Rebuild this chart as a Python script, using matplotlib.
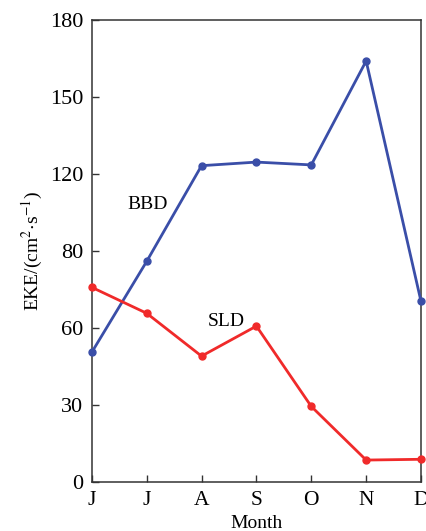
import matplotlib.pyplot as plt
import numpy as np

plt.rcParams['font.family'] = ['Liberation Serif', 'DejaVu Serif']
plt.rcParams['mathtext.fontset'] = 'stix'

months = ['J', 'J', 'A', 'S', 'O', 'N', 'D']
# values in axis position units (the printed tick labels read 0,30,60,80,120,150,180)
bbd = [50.4, 85.8, 123.1, 124.5, 123.4, 163.9, 70.2]
sld = [75.7, 65.6, 48.9, 60.6, 29.3, 8.4, 8.7]
yticks = [0, 30, 60, 90, 120, 150, 180]
ytick_labels = ['0', '30', '60', '80', '120', '150', '180']

fig = plt.figure(figsize=(4.27, 5.31), dpi=100)
ax = fig.add_axes([0.215, 0.093, 0.771, 0.870])

x = np.arange(len(months))
ax.plot(x, bbd, color='#3a4ea8', lw=2.0, marker='o', ms=5, clip_on=False, zorder=3)
ax.plot(x, sld, color='#f02a2a', lw=2.0, marker='o', ms=5, clip_on=False, zorder=3)

ax.text(1.02, 107.8, 'BBD', fontsize=14, ha='center', va='center')
ax.text(2.45, 62.5, 'SLD', fontsize=14, ha='center', va='center')

ax.set_xlim(0, 6)
ax.set_ylim(0, 180)
ax.set_xticks(x)
ax.set_xticklabels(months, fontsize=15.5)
ax.set_yticks(yticks)
ax.set_yticklabels(ytick_labels, fontsize=16)
ax.tick_params(direction='in', length=5, width=1.0, color='#333333')
ax.tick_params(axis='x', pad=7)
ax.tick_params(axis='y', pad=6)
for s in ax.spines.values():
    s.set_color('#333333')
    s.set_linewidth(1.1)

ax.set_xlabel('Month', fontsize=14, labelpad=3)
ax.set_ylabel(r'EKE/(cm$^2$$\cdot$s$^{-1}$)', fontsize=14, labelpad=4)

fig.savefig('out.png', dpi=100)
